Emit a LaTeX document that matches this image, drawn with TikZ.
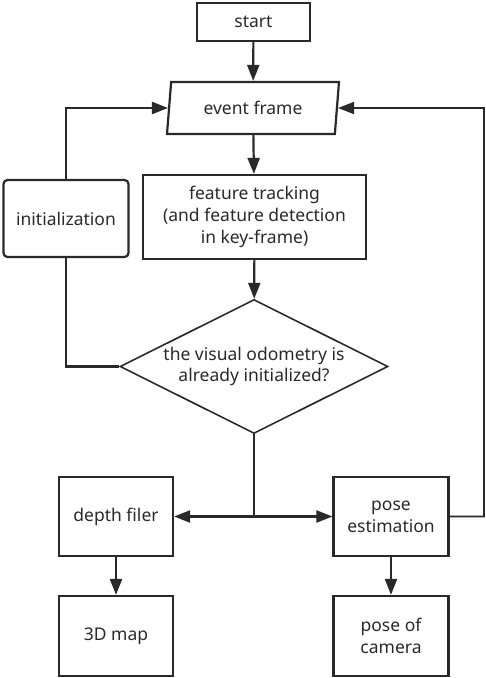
\documentclass[tikz,border=0pt]{standalone}
\usepackage{fontspec}
\setmainfont{Noto Sans}
\usepackage{tikz}
\usetikzlibrary{arrows.meta,calc,shapes.geometric,positioning}
\definecolor{flowgray}{rgb}{0.16, 0.16, 0.16}
\def\flowfont{\fontsize{17.5}{21.7}\selectfont}

\begin{document}
\begin{tikzpicture}[x=1pt,y=-1pt,
  every node/.style={font=\flowfont, text=flowgray, align=center, inner sep=0pt},
  box/.style={draw=flowgray, line width=2.2pt, rectangle},
  roundbox/.style={box, rounded corners=4pt},
  inputbox/.style={draw=flowgray, line width=2.2pt, trapezium, trapezium left angle=73, trapezium right angle=107, trapezium stretches body, minimum width=172pt, minimum height=52pt},
  decision/.style={draw=flowgray, line width=1.6pt, diamond, aspect=2, minimum width=268pt, minimum height=134pt},
  flow/.style={draw=flowgray, line width=2.2pt, -{Triangle[length=16pt,width=12pt]}},
  line/.style={draw=flowgray, line width=2.2pt}]
\useasboundingbox (0,0) rectangle (486,678);
\node (start) at (253.5,22) [box, minimum width=113pt, minimum height=38pt] {start};
\node (frame) at (253,108) [inputbox] {event frame};
\node (track) at (254.5,217) [box, minimum width=223pt, minimum height=84pt] {feature tracking\\(and feature detection\\in key-frame)};
\node (init) at (66,218.5) [roundbox, minimum width=125pt, minimum height=77pt] {initialization};
\node (check) at (254,366.5) [decision] {the visual odometry is\\already initialized?};
\node (depth) at (116,516.5) [box, minimum width=114pt, minimum height=79pt] {depth filer};
\node (map) at (116,636) [box, minimum width=114pt, minimum height=80pt] {3D map};
\node (pose) at (391,516.5) [box, minimum width=115pt, minimum height=79pt] {pose\\estimation};
\node (camera) at (391,636) [box, minimum width=115pt, minimum height=80pt] {pose of\\camera};
\coordinate (split) at (check.south |- depth.east);
\coordinate (back) at (484,108);
\draw[flow] (start)--(frame);
\draw[flow] (frame)--(track);
\draw[flow] (track)--(check);
\draw[flow] (init.north) |- (frame.west);
\draw[line] (check.west) -| (init.south);
\draw[line] (check.south)--(split);
\draw[flow, {Triangle[length=16pt,width=12pt]}-{Triangle[length=16pt,width=12pt]}] (depth.east)--(pose.west);
\draw[flow, line width=1.6pt] (pose.east) -| (back)--(frame.east);
\draw[flow] (depth)--(map);
\draw[flow] (pose)--(camera);
\end{tikzpicture}
\end{document}
